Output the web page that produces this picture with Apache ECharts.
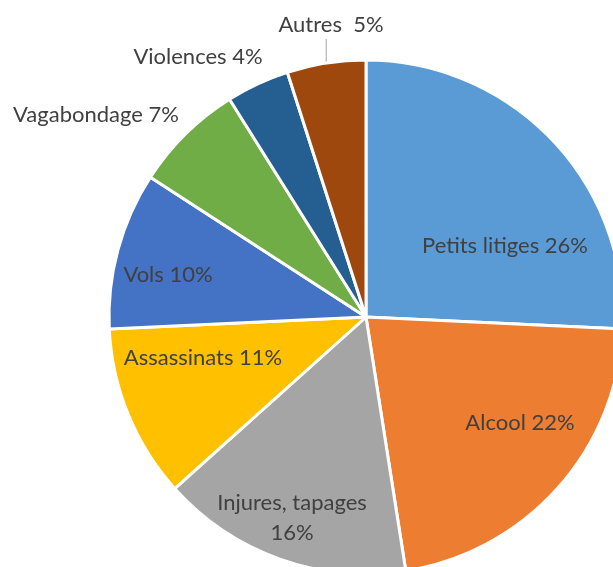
<!DOCTYPE html>
<html>
<head>
<meta charset="utf-8">
<script src="https://cdn.jsdelivr.net/npm/echarts@6/dist/echarts.min.js"></script>
<style>
  html, body { margin: 0; padding: 0; background: #fff; }
  #chart { width: 613px; height: 567px; }
</style>
</head>
<body>
<div id="chart"></div>
<script>
// Categories and their shares (in %), clockwise from 12 o'clock
const categories = ['Petits litiges', 'Alcool', 'Injures, tapages', 'Assassinats', 'Vols', 'Vagabondage', 'Violences', 'Autres'];
const shares = [26, 22, 16, 11, 10, 7, 4, 5];
const labelTexts = ['Petits litiges 26%', 'Alcool 22%', 'Injures, tapages\n16%', 'Assassinats 11%', 'Vols 10%', 'Vagabondage 7%', 'Violences 4%', 'Autres  5%'];

// Styling
const colors = ['#5B9BD5', '#ED7D31', '#A5A5A5', '#FFC000', '#4472C4', '#70AD47', '#255E91', '#9E480E'];
const outsideLabel = [false, false, false, false, false, true, true, true];
const showLine = [false, false, false, false, false, false, false, true];
const CENTER = [366, 317];
const RADIUS = 257;
// label centre offsets from the pie centre, in px
const labelOffset = [
  [139, -71], [154, 106], [-74, 201], [-163, 41],
  [-198, -42], [-270, -202], [-168, -260], [-35, -292]
];

const chart = echarts.init(document.getElementById('chart'), null, { renderer: 'canvas' });

const data = categories.map((name, i) => ({
  name: name,
  value: shares[i],
  itemStyle: { color: colors[i] },
  label: { position: outsideLabel[i] ? 'outside' : 'inside', formatter: labelTexts[i] },
  labelLine: { show: showLine[i], length: 10, length2: 0 }
}));

chart.setOption({
  animation: false,
  series: [{
    type: 'pie',
    center: CENTER,
    radius: RADIUS,
    startAngle: 90,
    clockwise: true,
    avoidLabelOverlap: false,
    itemStyle: { borderColor: '#ffffff', borderWidth: 3 },
    label: {
      show: true,
      color: '#404040',
      fontFamily: 'Lato',
      fontSize: 22,
      lineHeight: 30,
      align: 'center'
    },
    labelLine: { lineStyle: { color: '#A6A6A6', width: 1 } },
    labelLayout: function (p) {
      const off = labelOffset[p.dataIndex];
      const cx = CENTER[0] + off[0];
      const cy = CENTER[1] + off[1];
      const res = { x: cx, y: cy, align: 'center', verticalAlign: 'middle' };
      if (p.labelLinePoints) {
        const s = p.labelLinePoints[0];
        res.labelLinePoints = [[s[0], s[1] - 1], [s[0], cy + p.labelRect.height / 2 - 1]];
      }
      return res;
    },
    data: data
  }]
});
</script>
</body>
</html>
